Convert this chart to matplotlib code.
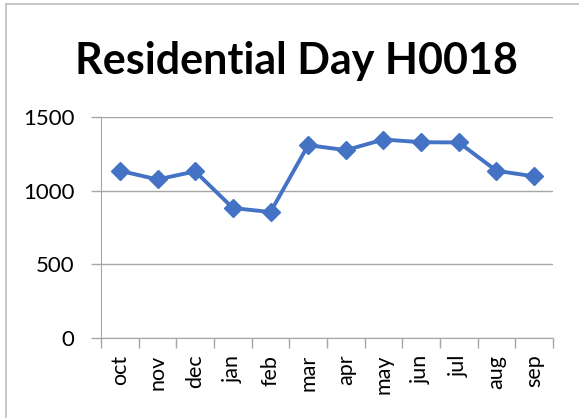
import matplotlib
matplotlib.use("Agg")
import matplotlib.pyplot as plt
import numpy as np

months = ["oct", "nov", "dec", "jan", "feb", "mar", "apr", "may", "jun", "jul", "aug", "sep"]
values = [1135, 1076, 1131, 882, 855, 1309, 1275, 1347, 1329, 1327, 1135, 1097]
yticks = [0, 500, 1000, 1500]
title = "Residential Day H0018"

plt.rcParams['font.family'] = ['Lato', 'DejaVu Sans']

W, H = 579, 418
fig = plt.figure(figsize=(W/100, H/100), dpi=100)
ax = fig.add_axes([101/W, 1 - 338/H, (553-101)/W, (338-117)/H])

x = np.arange(len(months))
ax.plot(x, values, color="#4472C4", lw=2.8, marker="D", markersize=9, zorder=3)

ax.set_xlim(-0.5, len(months) - 0.5)
ax.set_ylim(0, 1500)
ax.set_yticks(yticks)
ax.set_yticklabels([str(v) for v in yticks], fontsize=16)
ax.set_xticks(x)
ax.set_xticklabels(months, rotation=90, fontsize=15.5)
ax.set_xticks(np.arange(-0.5, len(months)), minor=True)
ax.tick_params(axis='x', which='major', length=0, pad=12)
ax.tick_params(axis='x', which='minor', length=7, color="#A6A6A6", width=1)
ax.tick_params(axis='y', length=7, color="#A6A6A6", width=1, pad=12)
ax.grid(axis='y', color="#A6A6A6", lw=1, zorder=0)
for s in ['top', 'right']:
    ax.spines[s].set_visible(False)
ax.spines['left'].set_color("#A6A6A6")
ax.spines['bottom'].set_color("#A6A6A6")

fig.text(296/W, 1 - 61/H, title, ha='center', va='center', fontsize=31, fontweight='bold')

# outer chart border (left and top visible)
fig.add_artist(plt.Line2D([6/W, 6/W], [0, 1 - 4/H], color="#BFBFBF", lw=1.2, transform=fig.transFigure))
fig.add_artist(plt.Line2D([6/W, 1], [1 - 4/H, 1 - 4/H], color="#BFBFBF", lw=1.2, transform=fig.transFigure))

fig.savefig("out.png", dpi=100)
